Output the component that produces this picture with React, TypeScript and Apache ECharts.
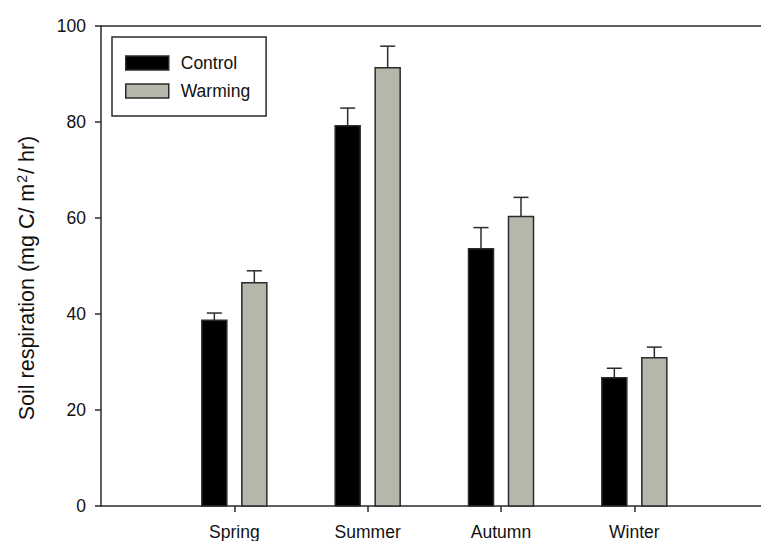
import { useEffect, useRef } from 'react';
import * as echarts from 'echarts';

// Seasonal soil respiration, control vs. warming plots (mean + SE)
const seasons = ['Spring', 'Summer', 'Autumn', 'Winter'];
const control = [38.7, 79.2, 53.6, 26.7];
const controlSE = [1.5, 3.7, 4.4, 2.0];
const warming = [46.5, 91.3, 60.3, 30.9];
const warmingSE = [2.5, 4.5, 4.0, 2.2];
const seasonPositions = [1, 2, 3, 4];

const FONT = '"Liberation Sans", Arial, sans-serif';
const INK = '#2b2b2b';

function barSeries(name: string, values: number[], errors: number[], color: string, offsetPx: number) {
  return {
    type: 'custom',
    name,
    itemStyle: { color },
    data: values.map((v, i) => [seasonPositions[i], v, errors[i]]),
    renderItem: (_params: any, api: any) => {
      const x = api.value(0);
      const v = api.value(1);
      const e = api.value(2);
      const base = api.coord([x, 0]);
      const top = api.coord([x, v]);
      const cap = api.coord([x, v + e]);
      const cx = base[0] + offsetPx;
      const lineStyle = { stroke: INK, lineWidth: 1.5 };
      return {
        type: 'group',
        children: [
          { type: 'line', shape: { x1: cx, y1: top[1], x2: cx, y2: cap[1] }, style: lineStyle },
          { type: 'line', shape: { x1: cx - 7.5, y1: cap[1], x2: cx + 7.5, y2: cap[1] }, style: lineStyle },
          {
            type: 'rect',
            shape: { x: cx - 12.5, y: top[1], width: 25, height: base[1] - top[1] },
            style: { fill: color, stroke: INK, lineWidth: 1.5 },
          },
        ],
      };
    },
  };
}

export default function App() {
  const ref = useRef<HTMLDivElement>(null);

  useEffect(() => {
    if (!ref.current) return;
    const chart = echarts.init(ref.current, undefined, { renderer: 'svg' });
    chart.setOption({
      animation: false,
      backgroundColor: '#ffffff',
      textStyle: { fontFamily: FONT },
      grid: { left: 101, top: 26, right: 0, bottom: 35 },
      graphic: [
        {
          type: 'text',
          x: 27,
          y: 278,
          rotation: Math.PI / 2,
          style: {
            text: '{t|Soil respiration (mg C/ m}{sup|2}{t|/ hr)}',
            align: 'center',
            verticalAlign: 'middle',
            fill: '#111',
            font: `21.5px ${FONT}`,
            rich: {
              t: { fontFamily: FONT, fontSize: 21.5, fill: '#111' },
              sup: { fontFamily: FONT, fontSize: 14, fill: '#111', padding: [0, 1, 11, 1] },
            },
          },
        },
      ],
      legend: {
        left: 112,
        top: 37,
        orient: 'vertical',
        icon: 'rect',
        itemWidth: 43,
        itemHeight: 14,
        itemGap: 10,
        padding: [17, 16, 16, 13],
        borderColor: INK,
        borderWidth: 1.5,
        borderRadius: 0,
        textStyle: { fontFamily: FONT, fontSize: 17.5, color: '#111', lineHeight: 14, padding: [0, 0, 0, 7] },
        data: [
          { name: 'Control', itemStyle: { color: '#000000', borderColor: INK, borderWidth: 1.5 } },
          { name: 'Warming', itemStyle: { color: '#b6b6aa', borderColor: INK, borderWidth: 1.5 } },
        ],
      },
      xAxis: [
        {
          type: 'value',
          min: 0,
          max: 4.95,
          interval: 1,
          splitLine: { show: false },
          axisLine: { show: true, lineStyle: { color: INK, width: 1.5 } },
          axisTick: { show: true, customValues: seasonPositions, length: 6, lineStyle: { color: INK, width: 1.5 } },
          axisLabel: {
            customValues: seasonPositions,
            margin: 17,
            fontFamily: FONT,
            fontSize: 17.5,
            color: '#111',
            formatter: (v: number) => seasons[seasonPositions.indexOf(Math.round(v))] ?? '',
          },
        },
        {
          type: 'value',
          position: 'top',
          min: 0,
          max: 4.95,
          splitLine: { show: false },
          axisLine: { show: true, lineStyle: { color: INK, width: 1.5 } },
          axisTick: { show: false },
          axisLabel: { show: false },
        },
      ],
      yAxis: {
        type: 'value',
        min: 0,
        max: 100,
        interval: 20,
        splitLine: { show: false },
        axisLine: { show: true, lineStyle: { color: INK, width: 1.5 } },
        axisTick: { show: true, length: 6, lineStyle: { color: INK, width: 1.5 } },
        axisLabel: { margin: 15, fontFamily: FONT, fontSize: 17.5, color: '#111' },
      },
      series: [
        barSeries('Control', control, controlSE, '#000000', -20),
        barSeries('Warming', warming, warmingSE, '#b6b6aa', 20),
      ],
    });
    return () => chart.dispose();
  }, []);

  return (
    <div
      ref={ref}
      style={{ position: 'fixed', left: 0, top: 0, width: 761, height: 541, background: '#fff' }}
    />
  );
}
